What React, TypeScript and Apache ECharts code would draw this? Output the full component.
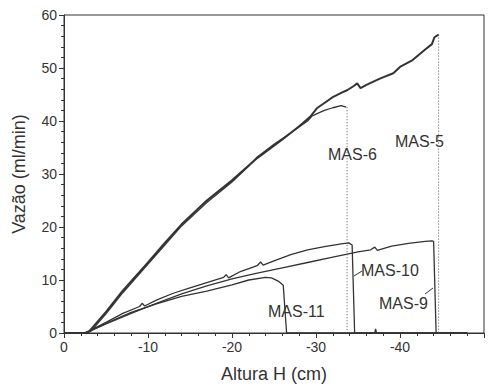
import React, { useEffect, useRef } from "react";
import * as echarts from "echarts";

const xTicks = [0, -10, -20, -30, -40, -50];
const yTicks = [0, 10, 20, 30, 40, 50, 60];

const mas5: number[][] = [
  [0, 0], [-2.5, 0], [-3, 0.3], [-5, 4], [-7, 8], [-10, 13.3], [-12, 17], [-14, 20.5], [-17, 25],
  [-20, 28.8], [-23, 33], [-26, 36.5], [-28, 39], [-29.3, 40.8], [-30.1, 42.4], [-31, 43.4],
  [-32, 44.5], [-33, 45.3], [-33.7, 45.8], [-34.5, 46.6], [-34.9, 47.1], [-35.3, 46.2], [-36, 46.8],
  [-37.6, 48], [-39.2, 49], [-40, 50.2], [-41.5, 51.5], [-43, 53.5], [-43.8, 54.5], [-44.1, 55.8], [-44.6, 56.3],
];
const mas5Drop: number[][] = [[-44.6, 56.3], [-44.6, 0]];

const mas6: number[][] = [
  [0, 0], [-2.8, 0], [-3.3, 0.5], [-5, 3.6], [-7, 7.6], [-10, 13], [-12, 16.6], [-14, 20.2], [-17, 24.6],
  [-20, 28.5], [-22, 31.5], [-23, 33.2], [-25, 35.6], [-27, 37.8], [-29, 40], [-29.5, 40.9], [-30, 41.3],
  [-31, 42], [-32, 42.5], [-33, 42.9], [-33.6, 42.6],
];
const mas6Drop: number[][] = [[-33.7, 42.6], [-33.7, 0]];

const mas10: number[][] = [
  [0, 0], [-2.5, 0], [-3, 0.4], [-5, 2], [-7, 3.7], [-9, 5], [-9.3, 5.6], [-9.6, 5.1], [-11, 6.2],
  [-13, 7.5], [-15, 8.5], [-17, 9.5], [-19, 10.5], [-19.3, 11], [-19.6, 10.4], [-21, 11.6], [-23, 12.7],
  [-23.4, 13.4], [-23.7, 12.8], [-25, 13.6], [-27, 14.8], [-29, 15.7], [-31, 16.3], [-33, 16.8],
  [-33.9, 17], [-34.3, 16.6], [-34.6, 0], [-48, 0],
];

const mas9: number[][] = [
  [0, 0], [-2.5, 0], [-3, 0.3], [-5, 1.7], [-8, 3.7], [-11, 5.6], [-14, 7.4], [-17, 8.9], [-20, 10.2],
  [-23, 11.3], [-26, 12.3], [-29, 13.3], [-32, 14.3], [-35, 15.3], [-36.5, 15.7], [-37, 16.2],
  [-37.3, 15.6], [-39, 16.4], [-41, 16.9], [-43, 17.3], [-43.8, 17.4], [-44, 17.3], [-44.3, 0], [-48, 0],
];

const mas11: number[][] = [
  [0, 0], [-2.5, 0], [-3, 0.3], [-5, 1.8], [-8, 3.9], [-11, 5.5], [-14, 6.9], [-17, 7.9], [-20, 9.1],
  [-22, 10], [-24, 10.5], [-24.7, 10.4], [-25.5, 9.8], [-26.1, 9], [-26.5, 0], [-37, 0], [-37.1, 0.8],
  [-37.2, 0], [-48, 0],
];

const seriesNames = ["MAS-5", "MAS-6", "MAS-10", "MAS-9", "MAS-11"];

export default function App() {
  const ref = useRef<HTMLDivElement>(null);
  useEffect(() => {
    if (!ref.current) return;
    const chart = echarts.init(ref.current, null, { renderer: "svg" });
    const lineColor = "#333";
    const font = "Liberation Sans, Arial, sans-serif";
    const solid = (name: string, data: number[][], w: number) => ({
      name,
      type: "line",
      data,
      showSymbol: false,
      symbol: "none",
      lineStyle: { color: lineColor, width: w },
      silent: true,
    });
    const dotted = (data: number[][]) => ({
      type: "line",
      data,
      symbol: "none",
      lineStyle: { color: "#555", width: 1, type: [1, 2] },
      silent: true,
    });
    const text = (t: string, x: number, y: number) => ({
      type: "text",
      left: x,
      top: y,
      style: { text: t, fontSize: 16, fill: "#333", fontFamily: font },
    });
    chart.setOption({
      animation: false,
      grid: { left: 64, right: 15, top: 15, bottom: 55, show: true, borderColor: "#333", borderWidth: 1 },
      xAxis: {
        type: "value",
        min: xTicks[xTicks.length - 1],
        max: xTicks[0],
        interval: 10,
        inverse: true,
        name: "Altura H (cm)",
        nameLocation: "middle",
        nameGap: 32,
        nameTextStyle: { fontSize: 18, color: "#333", fontFamily: font },
        axisLine: { lineStyle: { color: "#333" } },
        axisTick: { length: 5, lineStyle: { color: "#333" } },
        minorTick: { show: true, splitNumber: 5, length: 3, lineStyle: { color: "#333" } },
        splitLine: { show: false },
        axisLabel: {
          color: "#333",
          fontSize: 14,
          fontFamily: font,
          margin: 7,
          formatter: (v: number) => (v === -50 ? "" : String(v)),
        },
      },
      yAxis: {
        type: "value",
        min: yTicks[0],
        max: yTicks[yTicks.length - 1],
        interval: 10,
        name: "Vazão (ml/min)",
        nameLocation: "middle",
        nameGap: 36,
        nameTextStyle: { fontSize: 18, color: "#333", fontFamily: font },
        axisLine: { show: true, lineStyle: { color: "#333" } },
        axisTick: { show: true, length: 5, lineStyle: { color: "#333" } },
        minorTick: { show: true, splitNumber: 5, length: 3, lineStyle: { color: "#333" } },
        splitLine: { show: false },
        axisLabel: { color: "#333", fontSize: 14, fontFamily: font, margin: 7 },
      },
      series: [
        solid(seriesNames[0], mas5, 2),
        solid(seriesNames[1], mas6, 1.3),
        solid(seriesNames[2], mas10, 1.3),
        solid(seriesNames[3], mas9, 1.3),
        solid(seriesNames[4], mas11, 1.3),
        dotted(mas5Drop),
        dotted(mas6Drop),
      ],
      graphic: [
        text("MAS-6", 328, 146),
        text("MAS-5", 395, 133),
        text("MAS-10", 361, 262),
        text("MAS-9", 379, 295),
        text("MAS-11", 268, 303),
        { type: "line", shape: { x1: 354, y1: 276, x2: 362, y2: 271 }, style: { stroke: "#333", lineWidth: 1 } },
        { type: "line", shape: { x1: 425, y1: 294, x2: 433, y2: 288 }, style: { stroke: "#333", lineWidth: 1 } },
      ],
    });
    return () => chart.dispose();
  }, []);
  return <div ref={ref} style={{ position: "fixed", left: 0, top: 0, width: 499, height: 388, background: "#fff" }} />;
}
